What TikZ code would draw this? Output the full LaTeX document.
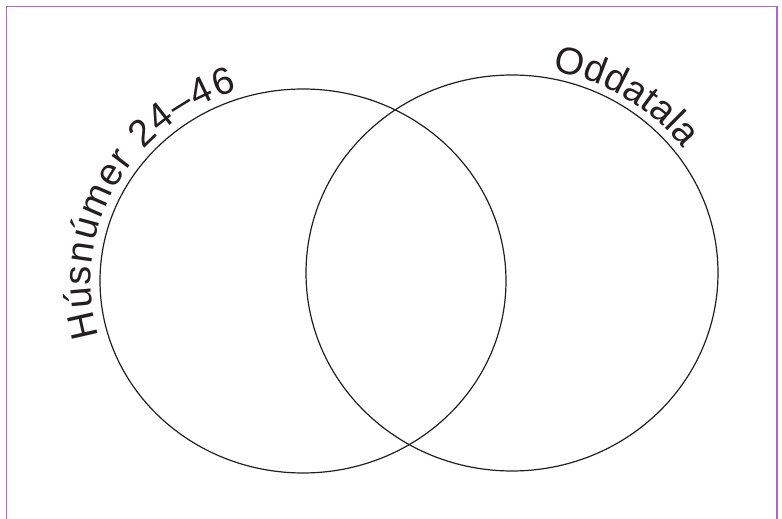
\documentclass[tikz,border=0pt]{standalone}
\usepackage{fontspec}
\setmainfont{Liberation Sans}
\usetikzlibrary{decorations.text,calc}
\definecolor{framepurple}{RGB}{178,102,204}
\definecolor{ink}{RGB}{35,31,32}
\tikzset{
  frameline/.style={draw=framepurple, line width=1.4pt},
  vennline/.style={draw=ink, line width=1.2pt},
  arclabel/.style={decorate, decoration={text along path, text align=fit to path, text color=ink}}
}
\begin{document}
\begin{tikzpicture}[x=1pt,y=1pt]
\useasboundingbox (0,0) rectangle (782,519);
% frame (bottom edge lies outside the picture)
\draw[frameline] (6.5,0) -- (6.5,512.5) -- (777,512.5) -- (777,0);
% ellipses
\coordinate (cl) at (303,238);
\coordinate (cr) at (512,246);
\draw[vennline] (cl) ellipse [x radius=203, y radius=192];
\draw[vennline] (cr) ellipse [x radius=206, y radius=198];
% curved labels
\path[arclabel, decoration={text={|\fontsize{38}{42}\selectfont|Húsnúmer 24–46}}]
  ($(cl)+(196:212 and 200)$) arc [start angle=196, end angle=108, x radius=212, y radius=200];
\path[arclabel, decoration={text={|\fontsize{38}{42}\selectfont|Oddatala}}]
  ($(cr)+(79:214 and 206)$) arc [start angle=79, end angle=37, x radius=214, y radius=206];
\end{tikzpicture}
\end{document}
